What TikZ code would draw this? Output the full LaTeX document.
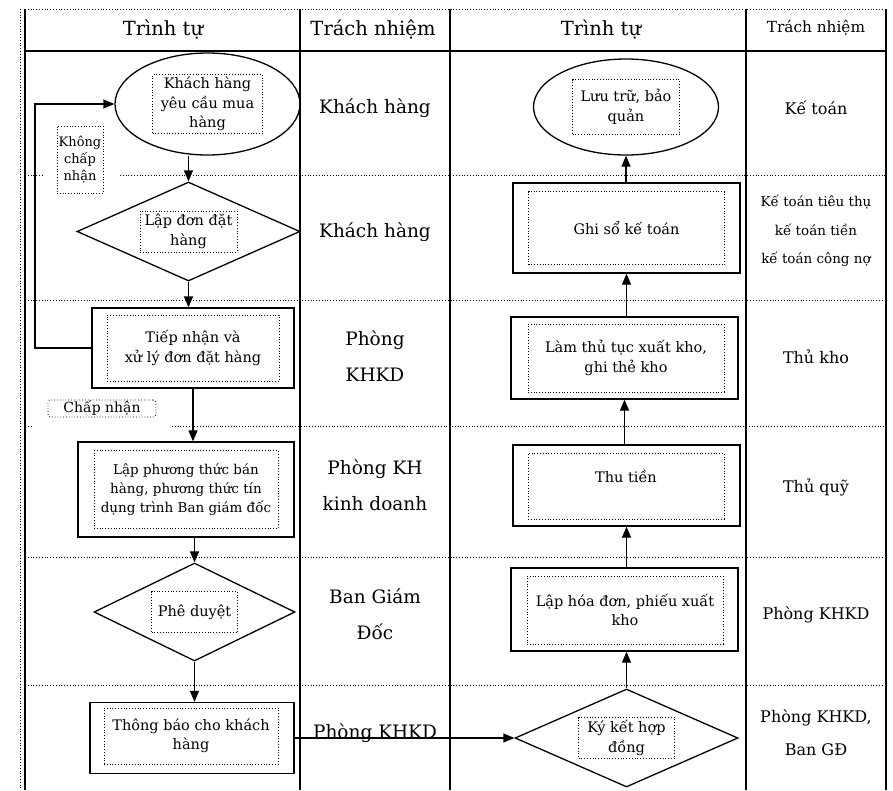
\documentclass[tikz,border=0pt]{standalone}
\usepackage{fontspec}
\setmainfont{DejaVu Serif}
\usetikzlibrary{shapes.geometric,arrows.meta}
\tikzset{
  frame/.style={draw,line width=1.3pt,inner sep=0pt},
  note/.style={draw,dotted,line width=.8pt,align=center,inner sep=0pt,font=\fontsize{14.5}{19.5}\selectfont},
  duty/.style={align=center,font=\fontsize{18.5}{36}\selectfont},
  staff/.style={align=center,font=\fontsize{16}{33}\selectfont},
  head/.style={font=\fontsize{19.5}{24}\selectfont},
  flow/.style={line width=1.3pt,-{Triangle[length=11pt,width=9pt]}},
  grid/.style={line width=1.6pt},
  sep/.style={dotted,line width=.8pt}
}
\begin{document}
\begin{tikzpicture}[x=1pt,y=-1pt]
\useasboundingbox (0,0) rectangle (893,790);
\draw[sep] (20,9) -- (20,790);
\draw[sep] (25,9) -- (886,9);
\foreach \x in {25,300,450,746,886} \draw[grid] (\x,9) -- (\x,790);
\draw[grid] (25,51) -- (886,51);
\foreach \y in {300,557,685} \draw[sep] (25,\y) -- (886,\y);
\draw[sep] (25,175) -- (43,175) (120,175) -- (886,175);
\draw[sep] (25,426) -- (31,426) (172,426) -- (886,426);

\node[head] (h1) at (163,30) {Trình tự};
\node[head] (h2) at (373,30) {Trách nhiệm};
\node[head] (h3) at (601,30) {Trình tự};
\node[head,font=\fontsize{15.3}{20}\selectfont] (h4) at (816,28) {Trách nhiệm};

\node[frame,ellipse,minimum width=185pt,minimum height=102pt] (yeucau) at (207.5,104) {};
\node[note,minimum width=110pt,minimum height=59pt] (yeucau-t) at (yeucau.center) {Khách hàng\\yêu cầu mua\\hàng};
\node[frame,diamond,minimum width=223pt,minimum height=99pt] (lapdon) at (188.5,231.5) {};
\node[note,minimum width=97pt,minimum height=41pt] (lapdon-t) at (lapdon.center) {Lập đơn đặt\\hàng};
\node[frame,minimum width=202pt,minimum height=80pt] (tiepnhan) at (193,348) {};
\node[note,minimum width=172pt,minimum height=66pt] (tiepnhan-t) at (tiepnhan.center) {Tiếp nhận và\\xử lý đơn đặt hàng};
\node[frame,minimum width=216pt,minimum height=95pt] (phuongthuc) at (186,489.5) {};
\node[note,minimum width=184pt,minimum height=78pt,font=\fontsize{13.5}{19.3}\selectfont] (phuongthuc-t) at (phuongthuc.center) {Lập phương thức bán\\hàng, phương thức tín\\dụng trình Ban giám đốc};
\node[frame,diamond,minimum width=201pt,minimum height=98pt] (pheduyet) at (194.5,612) {};
\node[note,minimum width=86pt,minimum height=41pt] (pheduyet-t) at (pheduyet.center) {Phê duyệt};
\node[frame,minimum width=204pt,minimum height=71pt] (thongbao) at (192,738) {};
\node[note,minimum width=174pt,minimum height=56pt] (thongbao-t) at (191,736) {Thông báo cho khách\\hàng};

\node[note,minimum width=46pt,minimum height=67pt,font=\fontsize{13}{17}\selectfont] (khong) at (80,159.5) {Không\\chấp\\nhận};
\node[note,rounded corners=3pt,minimum width=108pt,minimum height=17pt,font=\fontsize{14}{17}\selectfont] (chapnhan) at (102,408.5) {Chấp nhận};

\node[frame,ellipse,minimum width=185pt,minimum height=96pt] (luutru) at (626,107) {};
\node[note,minimum width=107pt,minimum height=55pt] (luutru-t) at (luutru.center) {Lưu trữ, bảo\\quản};
\node[frame,minimum width=227pt,minimum height=90pt] (ghiso) at (626.5,228) {};
\node[note,minimum width=196pt,minimum height=73pt] (ghiso-t) at (ghiso.center) {Ghi sổ kế toán};
\node[frame,minimum width=227pt,minimum height=82pt] (thutuc) at (624.5,358) {};
\node[note,minimum width=196pt,minimum height=68pt] (thutuc-t) at (626,358) {Làm thủ tục xuất kho,\\ghi thẻ kho};
\node[frame,minimum width=227pt,minimum height=81pt] (thutien) at (626.5,485.5) {};
\node[note,minimum width=196pt,minimum height=66pt] (thutien-t) at (626,486) {Thu tiền\\\mbox{}};
\node[frame,minimum width=227pt,minimum height=83pt] (hoadon) at (624.5,609.5) {};
\node[note,minimum width=196pt,minimum height=68pt] (hoadon-t) at (625,610) {Lập hóa đơn, phiếu xuất\\kho};
\node[frame,diamond,minimum width=223pt,minimum height=98pt] (kyket) at (626.5,738) {};
\node[note,minimum width=96pt,minimum height=41pt] (kyket-t) at (kyket.center) {Ký kết hợp\\đồng};

\node[duty] (r1) at (375,108) {Khách hàng};
\node[duty] (r2) at (375,232) {Khách hàng};
\node[duty] (r3) at (375,356) {Phòng\\KHKD};
\node[duty] (r4) at (375,485) {Phòng KH\\kinh doanh};
\node[duty] (r5) at (375,614) {Ban Giám\\Đốc};
\node[duty] (r6) at (375,733) {Phòng KHKD};

\node[staff] (s1) at (816,108) {Kế toán};
\node[staff,font=\fontsize{13.5}{28.5}\selectfont] (s2) at (816,231) {Kế toán tiêu thụ\\kế toán tiền\\kế toán công nợ};
\node[staff] (s3) at (816,357) {Thủ kho};
\node[staff] (s4) at (816,487) {Thủ quỹ};
\node[staff] (s5) at (816,615) {Phòng KHKD};
\node[staff] (s6) at (816,733) {Phòng KHKD,\\Ban GĐ};

\coordinate (back) at (35,350);
\draw[flow] (yeucau.south -| lapdon.north) -- (lapdon.north);
\draw[flow] (lapdon.south) -- (lapdon.south |- tiepnhan.north);
\draw[flow] (tiepnhan.south) -- (tiepnhan.south |- phuongthuc.north);
\draw[flow] (phuongthuc.south -| pheduyet.north) -- (pheduyet.north);
\draw[flow] (pheduyet.south) -- (pheduyet.south |- thongbao.north);
\draw[flow] (tiepnhan.west) -- (tiepnhan.west -| back) |- (yeucau.west);
\draw[flow] (thongbao.east) -- (kyket.west);
\draw[flow] (kyket.north) -- (kyket.north |- hoadon.south);
\draw[flow] (hoadon.north -| thutien.south) -- (thutien.south);
\draw[flow] (thutien.north -| thutuc.south) -- (thutuc.south);
\draw[flow] (thutuc.north -| ghiso.south) -- (ghiso.south);
\draw[flow] (ghiso.north -| luutru.south) -- (luutru.south);
\end{tikzpicture}
\end{document}
